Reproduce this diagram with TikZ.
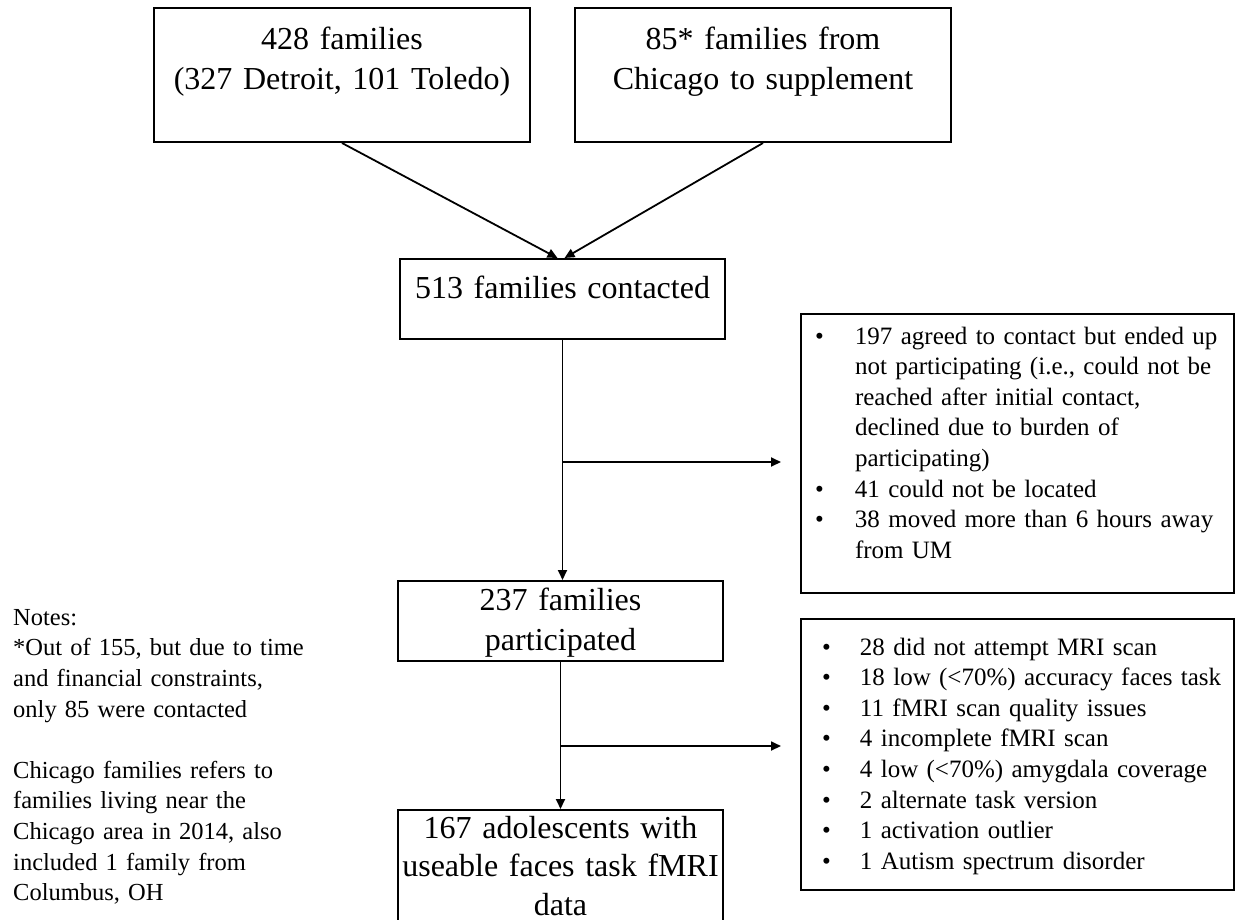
\documentclass[tikz,border=0pt]{standalone}
\usepackage{fontspec}
\setmainfont{Liberation Serif}
\usetikzlibrary{positioning,arrows.meta}
\tikzset{
    box/.style={rectangle, draw, line width=2pt, inner sep=0pt, align=center, text width=376pt, font=\fontsize{32}{40}\selectfont},
    excl/.style={rectangle, draw, line width=2pt, inner sep=0pt, text width=433pt, font=\fontsize{25}{30.6}\selectfont},
    note/.style={inner sep=0pt, align=left, text width=330pt, font=\fontsize{24.5}{30.6}\selectfont},
    line/.style={draw, line width=1.8pt, -{Triangle[length=10pt,width=9pt]}}
}

\begin{document}
\begin{tikzpicture}[x=1pt, y=-1pt]
        \useasboundingbox (0,0) rectangle (1238,919);
        % sources
        \node[box, anchor=north west, text height=41pt, text depth=93pt] (fam) at (153,7) {428 families\\(327 Detroit, 101 Toledo)};
        \node[box, text height=41pt, text depth=93pt, right=43pt of fam.north east, anchor=north west] (chi) {85* families from\\Chicago to supplement};
        % main flow
        \node[box, anchor=north west, text width=325pt, text height=39pt, text depth=41pt] (cont) at (399,258) {513 families contacted};
        \node[box, anchor=north west, text width=325pt, text height=29pt, text depth=51pt] (part) at (397,580) {237 families\\participated};
        \node[box, anchor=north west, text width=325pt, text height=28pt, text depth=121pt, font=\fontsize{32}{38.5}\selectfont] (res) at (397,809) {167 adolescents with\\useable faces task fMRI\\data};
        % exclusions
        \node[excl, anchor=north west, text height=30pt, text depth=249pt] (excl1) at (800,313) {%
            \begin{tabular}[t]{@{\hspace{14pt}}p{40pt}@{}l@{}}
            \textbullet & 197 agreed to contact but ended up\\
                        & not participating (i.e., could not be\\
                        & reached after initial contact,\\
                        & declined due to burden of\\
                        & participating)\\
            \textbullet & 41 could not be located\\
            \textbullet & 38 moved more than 6 hours away\\
                        & from UM
            \end{tabular}};
        \node[excl, anchor=north west, text height=36pt, text depth=235pt] (excl2) at (800,618) {%
            \begin{tabular}[t]{@{\hspace{21pt}}p{38pt}@{}l@{}}
            \textbullet & 28 did not attempt MRI scan\\
            \textbullet & 18 low (<70\%) accuracy faces task\\
            \textbullet & 11 fMRI scan quality issues\\
            \textbullet & 4 incomplete fMRI scan\\
            \textbullet & 4 low (<70\%) amygdala coverage\\
            \textbullet & 2 alternate task version\\
            \textbullet & 1 activation outlier\\
            \textbullet & 1 Autism spectrum disorder
            \end{tabular}};
        % notes
        \node[note, anchor=north west, text height=20pt] (notes) at (13,605) {Notes:\\{}*Out of 155, but due to time\\and financial constraints,\\only 85 were contacted\\[30.6pt]Chicago families refers to\\families living near the\\Chicago area in 2014, also\\included 1 family from\\Columbus, OH};

        \coordinate (br1) at (cont.south |- 0,462);
        \coordinate (br2) at (part.south |- 0,746);

        \draw[line] (fam.south) -- ([xshift=-5pt]cont.north);
        \draw[line] (chi.south) -- ([xshift=2pt]cont.north);
        \draw[line] (cont.south) -- (cont.south |- part.north);
        \draw[line, shorten >=19pt] (br1) -- (br1 -| excl1.west);
        \draw[line] (part.south) -- (part.south |- res.north);
        \draw[line, shorten >=19pt] (br2) -- (br2 -| excl2.west);
    \end{tikzpicture}
\end{document}
